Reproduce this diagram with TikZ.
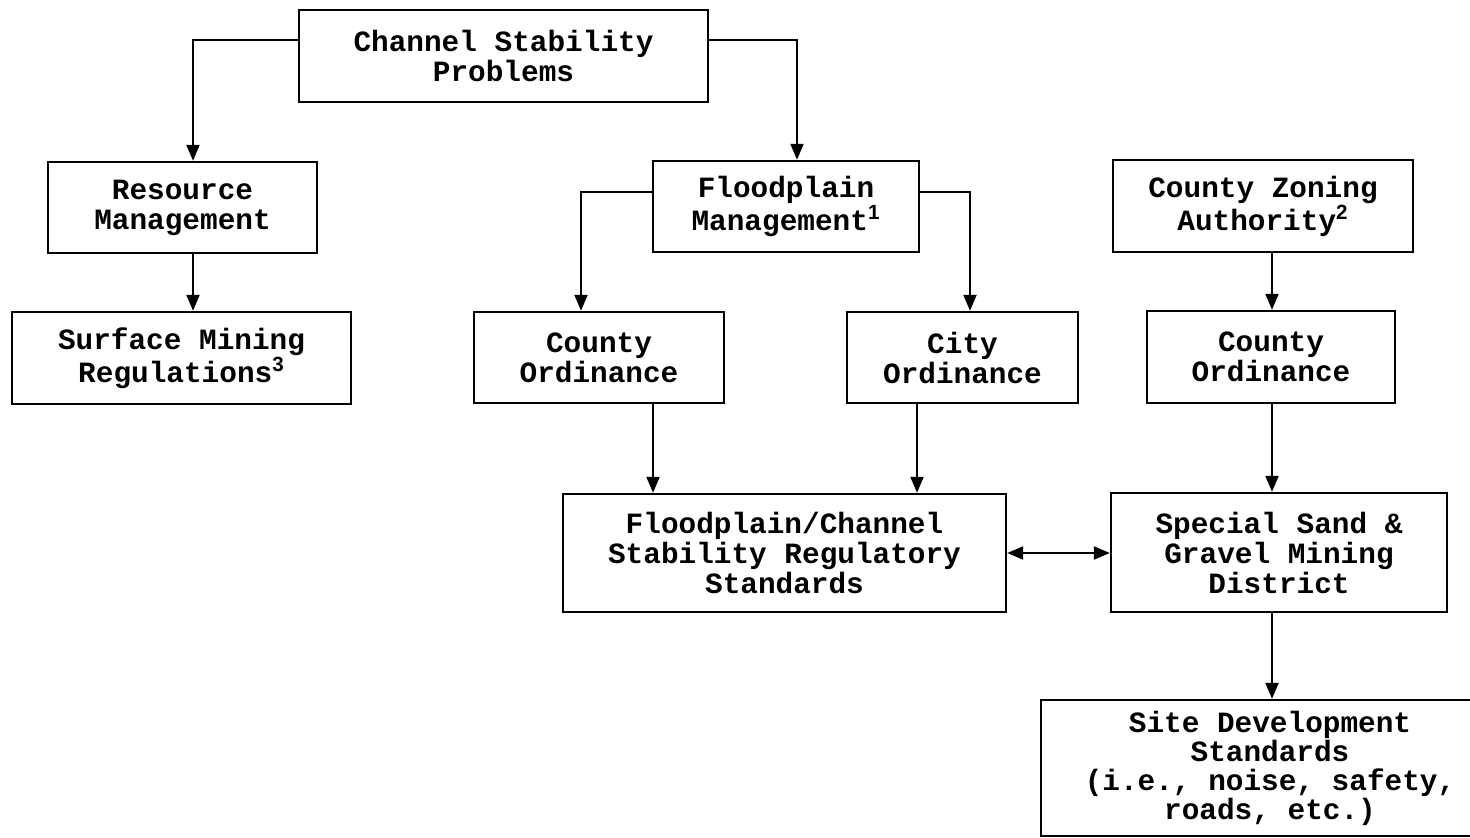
\documentclass[tikz,border=0pt]{standalone}
\usepackage{fontspec}
\setmonofont{Liberation Mono}
\newfontfamily\supfont{Liberation Sans}
\usetikzlibrary{arrows.meta}
\newcommand{\supn}[1]{{\supfont\textsuperscript{#1}}}
\begin{document}
\begin{tikzpicture}[x=0.5pt,y=-0.5pt,
  box/.style={draw,line width=1.2pt,rectangle,align=center,inner sep=0pt,
    font=\ttfamily\bfseries\fontsize{14.7}{15}\selectfont},
  arr/.style={line width=1.1pt,-{Triangle[length=8pt,width=6.5pt]}},
  darr/.style={line width=1.1pt,{Triangle[length=8pt,width=6.5pt]}-{Triangle[length=8pt,width=6.5pt]}}]
\useasboundingbox (0,0) rectangle (1470,838);
\node[box,minimum width=204.5pt,minimum height=46pt] (chan) at (503.5,56) {Channel Stability\\Problems};
\node[box,minimum width=134.5pt,minimum height=45.5pt] (res) at (182.5,207.5) {Resource\\Management};
\node[box,minimum width=169.5pt,minimum height=46pt] (surf) at (181.5,358) {Surface Mining\\Regulations\supn{3}};
\node[box,minimum width=133pt,minimum height=45.5pt] (flood) at (786,206.5) {Floodplain\\Management\supn{1}};
\node[box,minimum width=150pt,minimum height=46pt] (zone) at (1263,206) {County Zoning\\Authority\supn{2}};
\node[box,minimum width=125pt,minimum height=45.5pt] (cord1) at (599,357.5) {County\\Ordinance};
\node[box,minimum width=115.5pt,minimum height=45.5pt] (city) at (962.5,357.5) {City\\Ordinance};
\node[box,minimum width=124pt,minimum height=46pt] (cord2) at (1271,357) {County\\Ordinance};
\node[box,minimum width=221.5pt,minimum height=59pt] (fcs) at (784.5,553) {Floodplain/Channel\\Stability Regulatory\\Standards};
\node[box,minimum width=168pt,minimum height=59.5pt] (sand) at (1279,552.5) {Special Sand \&\\Gravel Mining\\District};
\node[box,minimum width=229pt,minimum height=68pt,font=\ttfamily\bfseries\fontsize{14.7}{14.5}\selectfont] (site) at (1270,768) {Site Development\\Standards\\(i.e., noise, safety,\\roads, etc.)};
\draw[arr] ([yshift=8pt]chan.west) -| ([xshift=5.25pt]res.north);
\draw[arr] ([yshift=8pt]chan.east) -| ([xshift=5.5pt]flood.north);
\draw[arr] ([xshift=5.25pt]res.south) -- ([xshift=5.25pt]res.south |- surf.north);
\draw[arr] ([yshift=7.25pt]flood.west) -| ([xshift=-9pt]cord1.north);
\draw[arr] ([yshift=7.25pt]flood.east) -| ([xshift=3.75pt]city.north);
\draw[arr] ([xshift=0.5pt]cord2.north |- zone.south) -- ([xshift=0.5pt]cord2.north);
\draw[arr] ([xshift=27pt]cord1.south) -- ([xshift=27pt]cord1.south |- fcs.north);
\draw[arr] ([xshift=-22.75pt]city.south) -- ([xshift=-22.75pt]city.south |- fcs.north);
\draw[arr] ([xshift=0.5pt]cord2.south) -- ([xshift=0.5pt]cord2.south |- sand.north);
\draw[darr] (fcs.east) -- (fcs.east -| sand.west);
\draw[arr] ([xshift=-3.5pt]sand.south) -- ([xshift=-3.5pt]sand.south |- site.north);
\end{tikzpicture}
\end{document}
